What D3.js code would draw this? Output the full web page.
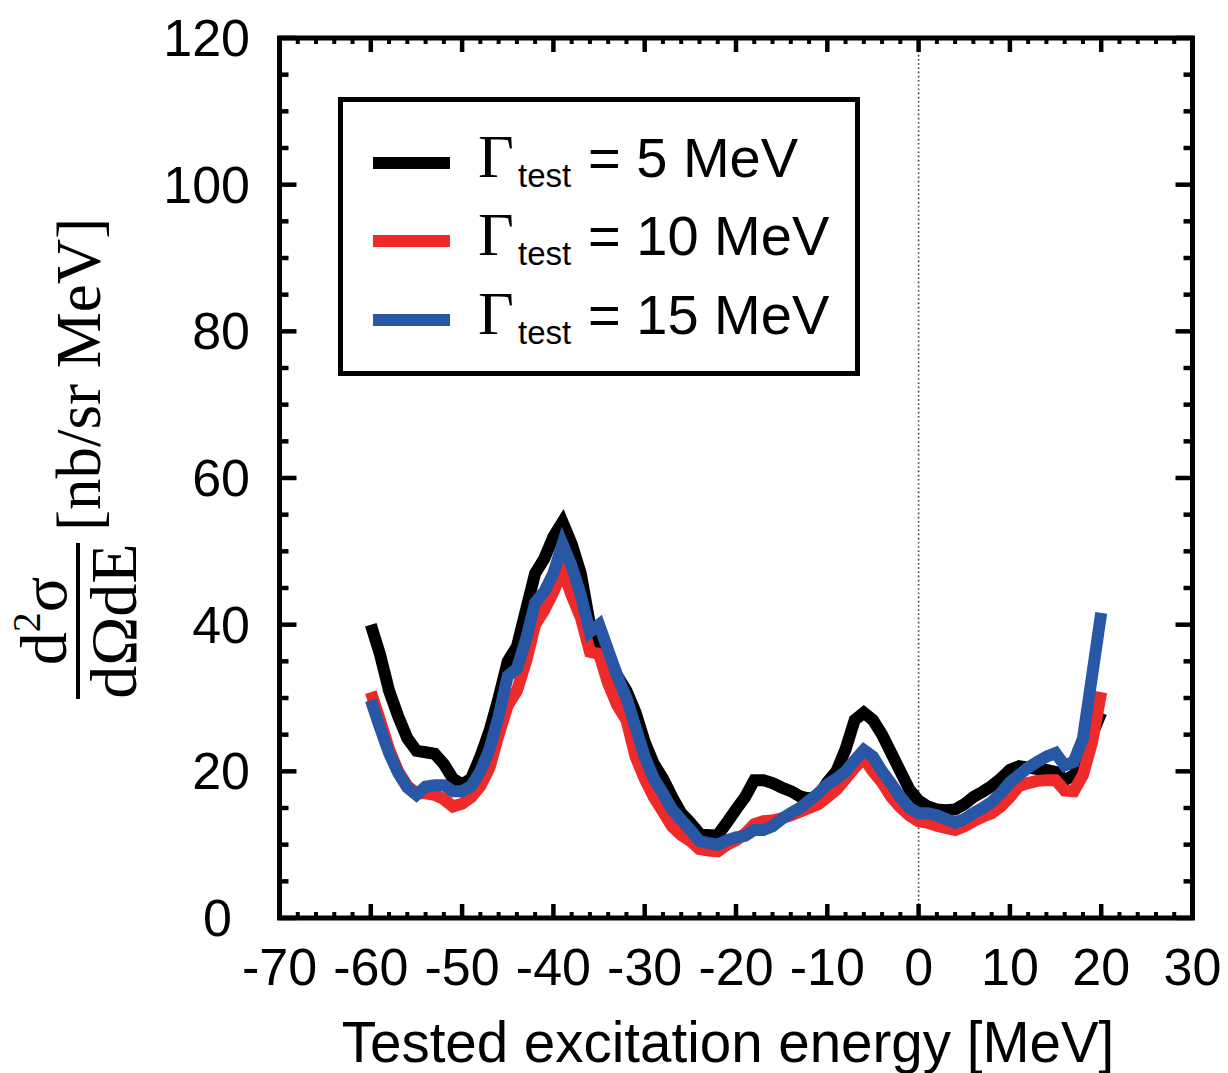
<!DOCTYPE html>
<html>
<head>
<meta charset="utf-8">
<script src="https://cdn.jsdelivr.net/npm/d3@7"></script>
<style>
  body { margin: 0; background: #fff; }
  svg { display: block; }
</style>
</head>
<body>
<svg id="chart" width="1228" height="1073"></svg>
<script>
// tested excitation energy grid [MeV]
var energy = [-60,-59,-58,-57,-56,-55,-54,-53,-52,-51,-50,-49,-48,-47,-46,-45,-44,-43,-42,-41,
  -40,-39,-38,-37,-36,-35,-34,-33,-32,-31,-30,-29,-28,-27,-26,-25,-24,-23,-22,-21,
  -20,-19,-18,-17,-16,-15,-14,-13,-12,-11,-10,-9,-8,-7,-6,-5,-4,-3,-2,-1,
  0,1,2,3,4,5,6,7,8,9,10,11,12,13,14,15,16,17,18,19,20];

// Gamma_test = 5 MeV
var gamma5 = [40,36,31,27.5,24.5,22.8,22.6,22.4,21,19,18.2,19,22,25.5,30,35,37,42,47,49,
  52,54,51,47,40,37.5,36,33,31,28,24,21,19,16.5,14.3,13,11.5,11.3,11.3,13,
  14.8,16.5,18.8,18.8,18.4,17.8,17.3,16.6,16.3,16.6,18.5,20,23,27,28,27,25,22.5,20,17.5,
  16,15.2,14.8,14.7,14.8,15.5,16.5,17.2,18,19,20.2,20.7,20.5,20.3,20.2,19.9,18.8,19.5,21.5,25,28];

// Gamma_test = 10 MeV
var gamma10 = [30.8,27,23,20,18,17,17,16.8,16.2,15.2,15.6,16.5,18,20.5,25,29,31,35,40,42,
  44.5,47.5,44,41,36.3,36,32,29,27,22,19,16.5,14.5,12.5,11.3,10.5,9.4,9.2,9.1,10,
  10.6,11.5,12.8,13.2,13.3,13.6,14,14.5,15,15.5,16.5,17.5,19,20.5,21.8,20,18.5,16.5,15.1,14,
  13.2,13,12.6,12.3,12,12.5,13.2,13.8,14.3,15.2,16.5,18,18.4,18.7,18.8,18.8,17.4,17.3,19.5,24,30.8];

// Gamma_test = 15 MeV
var gamma15 = [29.7,26,22.5,19.8,17.8,16.8,17.9,18.1,18.1,17.3,17.3,18,20,23,27.5,33,34,38,43,44.5,
  47,51,48,44,39,40,36.5,33,30,26,22,19,17,14.8,13.4,12,10.5,10.2,10,10.6,
  11,11.2,12,12,12.5,13.5,14.3,15,16,17,18.2,19,20,21.5,22.9,22,20,18.3,16.5,15,
  14.3,14.3,14,13.5,13,13.5,14.3,15,15.8,17,18.5,19.5,20.5,21.3,22,22.5,20.8,21.3,24.5,33,41.6];

var seriesNames = ["5 MeV", "10 MeV", "15 MeV"];
var seriesColors = ["#000000", "#ee2a2a", "#2757a5"];
var seriesValues = [gamma5, gamma10, gamma15];

var xTicks = [-70,-60,-50,-40,-30,-20,-10,0,10,20,30];
var yTicks = [0,20,40,60,80,100,120];

var svg = d3.select("#chart");

var margin = { left: 279.5, right: 1192.5, top: 38, bottom: 918 };

var x = d3.scaleLinear().domain([-70, 30]).range([margin.left, margin.right]);
var y = d3.scaleLinear().domain([0, 120]).range([margin.bottom, margin.top]);

// clip for the curves
svg.append("defs").append("clipPath").attr("id", "plotclip")
  .append("rect")
  .attr("x", margin.left).attr("y", margin.top)
  .attr("width", margin.right - margin.left)
  .attr("height", margin.bottom - margin.top);

// dotted line at zero
svg.append("line")
  .attr("x1", x(0)).attr("x2", x(0))
  .attr("y1", margin.top).attr("y2", margin.bottom)
  .attr("stroke", "#444").attr("stroke-width", 1.6)
  .attr("stroke-dasharray", "1.6,2.6");

// curves
var line = d3.line()
  .x(function(d, i){ return x(energy[i]); })
  .y(function(d){ return y(d); });

var curves = svg.append("g").attr("clip-path", "url(#plotclip)");
seriesValues.forEach(function(vals, k){
  curves.append("path")
    .attr("d", line(vals))
    .attr("fill", "none")
    .attr("stroke", seriesColors[k])
    .attr("stroke-width", 12)
    .attr("stroke-linejoin", "miter")
    .attr("stroke-miterlimit", 3);
});

// ticks on all four sides (inward)
var ticks = svg.append("g").attr("stroke", "#000");
var xMinor = d3.range(-70, 31, 2);
xMinor.forEach(function(v){
  var major = (v % 10 === 0);
  var len = major ? 14 : 6;
  var w = major ? 4.5 : 4;
  ticks.append("line").attr("x1", x(v)).attr("x2", x(v))
    .attr("y1", margin.bottom).attr("y2", margin.bottom - len).attr("stroke-width", w);
  ticks.append("line").attr("x1", x(v)).attr("x2", x(v))
    .attr("y1", margin.top).attr("y2", margin.top + len).attr("stroke-width", w);
});
var yMinor = d3.range(0, 121, 5);
yMinor.forEach(function(v){
  var major = (v % 20 === 0);
  var len = major ? 17 : 9;
  ticks.append("line").attr("y1", y(v)).attr("y2", y(v))
    .attr("x1", margin.left).attr("x2", margin.left + len).attr("stroke-width", 4.5);
  ticks.append("line").attr("y1", y(v)).attr("y2", y(v))
    .attr("x1", margin.right).attr("x2", margin.right - len).attr("stroke-width", 4.5);
});

// frame
svg.append("rect")
  .attr("x", margin.left).attr("y", margin.top)
  .attr("width", margin.right - margin.left)
  .attr("height", margin.bottom - margin.top)
  .attr("fill", "none").attr("stroke", "#000").attr("stroke-width", 5);

// tick labels
var sans = "'Liberation Sans', Arial, Helvetica, sans-serif";
svg.append("g").selectAll("text").data(xTicks).enter().append("text")
  .attr("x", function(d){ return x(d); })
  .attr("y", 985)
  .attr("text-anchor", "middle")
  .attr("font-family", sans).attr("font-size", 52)
  .text(function(d){ return d; });

svg.append("g").selectAll("text").data(yTicks).enter().append("text")
  .attr("x", function(d){ return d === 0 ? 232 : 250; })
  .attr("y", function(d){ return y(d) + 18; })
  .attr("text-anchor", "end")
  .attr("font-family", sans).attr("font-size", 52)
  .text(function(d){ return d; });

// x axis title
svg.append("text")
  .attr("x", 728).attr("y", 1062)
  .attr("text-anchor", "middle")
  .attr("font-family", sans).attr("font-size", 56.5)
  .text("Tested excitation energy [MeV]");

// y axis title: fraction + units, rotated
var serif = "'Liberation Serif', 'Times New Roman', Times, serif";
var yt = svg.append("g").attr("transform", "translate(78,621) rotate(-90)")
  .attr("font-family", serif).attr("fill", "#000");
yt.append("line").attr("x1", -78).attr("x2", 78).attr("y1", 0).attr("y2", 0)
  .attr("stroke", "#000").attr("stroke-width", 4);
var num = yt.append("text").attr("x", 0).attr("y", -12).attr("text-anchor", "middle").attr("font-size", 66);
num.append("tspan").text("d");
num.append("tspan").attr("font-size", 40).attr("dy", -26).text("2");
num.append("tspan").attr("dy", 26).text("σ");
yt.append("text").attr("x", 0).attr("y", 58).attr("text-anchor", "middle").attr("font-size", 66)
  .text("dΩdE");
yt.append("text").attr("x", 90).attr("y", 22).attr("text-anchor", "start").attr("font-size", 63)
  .text("[nb/sr MeV]");

// legend
var legend = svg.append("g");
legend.append("rect")
  .attr("x", 340.5).attr("y", 99.5).attr("width", 517).attr("height", 274)
  .attr("fill", "#fff").attr("stroke", "#000").attr("stroke-width", 5);
var rowY = [163, 241, 320];
seriesNames.forEach(function(name, k){
  legend.append("line")
    .attr("x1", 373).attr("x2", 450)
    .attr("y1", rowY[k]).attr("y2", rowY[k])
    .attr("stroke", seriesColors[k]).attr("stroke-width", 12);
  legend.append("text")
    .attr("x", 478).attr("y", rowY[k] + 14)
    .attr("font-family", serif).attr("font-size", 62)
    .text("Γ");
  legend.append("text")
    .attr("x", 518).attr("y", rowY[k] + 24)
    .attr("font-family", sans).attr("font-size", 33)
    .text("test");
  legend.append("text")
    .attr("x", 588).attr("y", rowY[k] + 14)
    .attr("font-family", sans).attr("font-size", 56)
    .text("= " + name);
});
</script>
</body>
</html>
